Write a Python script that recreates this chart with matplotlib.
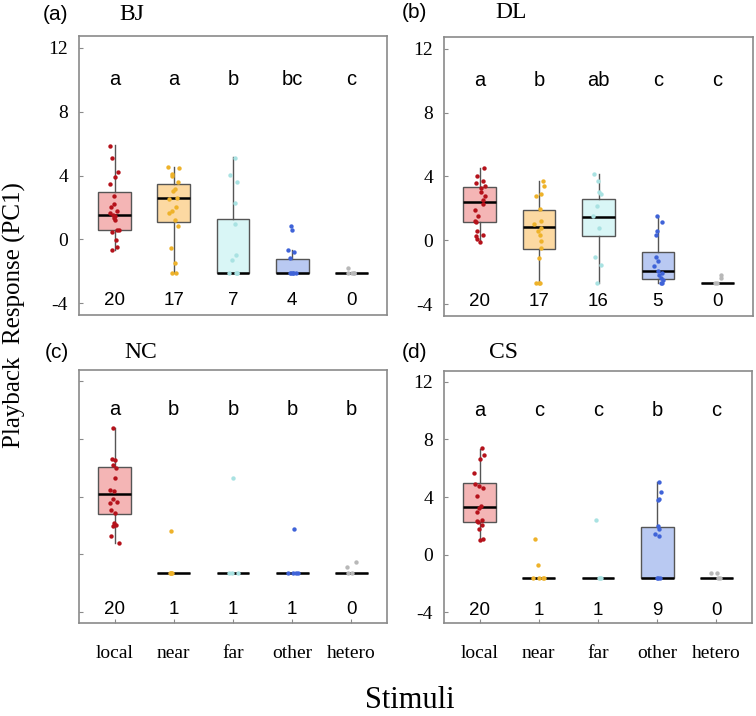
import numpy as np
import matplotlib
matplotlib.use("Agg")
import matplotlib.pyplot as plt

# categorias do eixo x
stimuli = ["local", "near", "far", "other", "hetero"]

# cores: preenchimento das caixas e pontos
box_cols = ["#f4b5b5", "#fcd9a2", "#d9f6f6", "#b9c9f2", "#d6d6d6"]
pt_cols = ["#b5121b", "#eeb22a", "#a9e2e2", "#3f63d8", "#b8b8b8"]

# ---- (a) BJ
bj_q1 = [0.58, 1.10, -2.10, -2.10, -2.10]
bj_med = [1.52, 2.56, -2.10, -2.10, -2.10]
bj_q3 = [2.95, 3.46, 1.25, -1.22, -2.10]
bj_lo = [-0.68, -2.14, -2.10, -2.10, -2.10]
bj_hi = [5.90, 4.55, 5.14, -0.68, -2.10]
bj_pts = [
    [5.87, 5.12, 4.24, 3.88, 3.44, 2.73, 2.21, 2.04, 1.79, 1.62, 1.50, 1.46,
     1.31, 1.21, 0.60, 0.58, 0.47, -0.05, -0.51, -0.68],
    [4.55, 4.45, 4.10, 4.00, 3.60, 3.13, 3.05, 2.56, 2.50, 2.04, 1.80, 1.62,
     1.20, 0.83, -0.57, -1.50, -2.10, -2.14],
    [5.07, 4.03, 3.60, 2.30, 0.95, -1.00, -1.30, -2.10, -2.10, -2.10, -2.10],
    [0.85, 0.58, -0.68, -0.78, -1.20, -2.10, -2.10, -2.10, -2.10, -2.10],
    [-1.83, -2.10, -2.10, -2.10, -2.10],
]
bj_letters = ["a", "a", "b", "bc", "c"]
bj_n = [20, 17, 7, 4, 0]

# ---- (b) DL
dl_q1 = [1.14, -0.54, 0.26, -2.42, -2.68]
dl_med = [2.40, 0.83, 1.45, -1.94, -2.68]
dl_q3 = [3.34, 1.90, 2.61, -0.73, -2.68]
dl_lo = [-0.10, -2.68, -2.68, -2.68, -2.68]
dl_hi = [4.56, 3.72, 4.18, 1.50, -2.68]
dl_pts = [
    [4.56, 4.03, 3.72, 3.60, 3.40, 3.30, 3.00, 2.78, 2.50, 2.25, 1.87, 1.50,
     1.20, 1.15, 0.57, 0.36, 0.25, 0.10, -0.10],
    [3.72, 3.40, 2.92, 2.80, 1.94, 1.20, 1.00, 0.78, 0.60, 0.36, -0.05, -0.47,
     -1.10, -2.68, -2.68, -2.68],
    [4.14, 3.72, 3.05, 2.88, 2.15, 1.50, 0.78, -1.06, -1.52, -2.68],
    [1.50, 1.16, 0.57, 0.36, -1.06, -1.30, -1.60, -1.94, -2.05, -2.15, -2.36,
     -2.50, -2.68, -2.68],
    [-2.20, -2.36, -2.68, -2.68],
]
dl_letters = ["a", "b", "ab", "c", "c"]
dl_n = [20, 17, 16, 5, 0]

# ---- (c) NC
nc_q1 = [2.76, -1.26, -1.26, -1.26, -1.26]
nc_med = [4.16, -1.26, -1.26, -1.26, -1.26]
nc_q3 = [6.04, -1.26, -1.26, -1.26, -1.26]
nc_lo = [0.76, -1.26, -1.26, -1.26, -1.26]
nc_hi = [8.74, -1.26, -1.26, -1.26, -1.26]
nc_pts = [
    [8.74, 6.61, 6.54, 6.15, 6.00, 5.28, 4.48, 4.40, 3.86, 3.63, 3.55, 3.10,
     2.87, 2.20, 2.02, 1.95, 1.27, 0.76],
    [1.61, -1.26, -1.26, -1.26, -1.26],
    [5.28, -1.26, -1.26, -1.26],
    [1.75, -1.26, -1.26, -1.26, -1.26],
    [-0.50, -0.89, -1.26, -1.26],
]
nc_letters = ["a", "b", "b", "b", "b"]
nc_n = [20, 1, 1, 1, 0]

# ---- (d) CS
cs_q1 = [2.26, -1.62, -1.62, -1.62, -1.62]
cs_med = [3.30, -1.62, -1.62, -1.62, -1.62]
cs_q3 = [4.97, -1.62, -1.62, 1.91, -1.62]
cs_lo = [1.03, -1.62, -1.62, -1.62, -1.62]
cs_hi = [7.36, -1.62, -1.62, 5.04, -1.62]
cs_pts = [
    [7.43, 6.90, 6.66, 5.69, 4.88, 4.74, 4.64, 4.09, 3.37, 3.25, 2.95, 2.42,
     2.32, 2.26, 2.07, 1.79, 1.10, 1.03],
    [1.10, -0.71, -1.62, -1.62, -1.62, -1.62],
    [2.42, -1.62, -1.62, -1.62],
    [5.04, 4.34, 3.88, 3.76, 2.02, 1.79, 1.44, 1.26, -1.62, -1.62, -1.62],
    [-1.30, -1.30, -1.62, -1.62],
]
cs_letters = ["a", "c", "c", "b", "c"]
cs_n = [20, 1, 1, 9, 0]

W, H = 756, 716
fig = plt.figure(figsize=(W / 100, H / 100), dpi=100)

serif = "Liberation Serif"
sans = "Liberation Sans"
spine_col = "#8a8a8a"
rng = np.random.default_rng(3)


def px_axes(l, t, r, b):
    """Cria eixos a partir de coordenadas em pixels"""
    return fig.add_axes([l / W, 1 - b / H, (r - l) / W, (b - t) / H])


def painel(ax, q1, med, q3, lo, hi, pts, letters, ns, ylabels=True, xlabels=False):
    pos = np.arange(1, len(stimuli) + 1)
    stats = []
    for i in range(len(stimuli)):
        stats.append(dict(q1=q1[i], med=med[i], q3=q3[i], whislo=lo[i],
                          whishi=hi[i], fliers=[]))
    bp = ax.bxp(stats, positions=pos, widths=0.55, patch_artist=True,
                showcaps=False, showfliers=False,
                boxprops=dict(edgecolor="#555555", linewidth=1.0),
                whiskerprops=dict(color="#555555", linewidth=1.0),
                medianprops=dict(color="black", linewidth=1.8))
    for patch, c in zip(bp["boxes"], box_cols):
        patch.set_facecolor(c)
    for i, vals in enumerate(pts):
        xs = pos[i] + rng.uniform(-0.09, 0.09, len(vals))
        ax.scatter(xs, vals, s=10, color=pt_cols[i], zorder=5, linewidths=0)
    for i in range(len(stimuli)):
        ax.text(pos[i], 10.0, letters[i], ha="center", va="center",
                fontsize=14.5, family=sans)
        ax.text(pos[i], -3.85, str(ns[i]), ha="center", va="center",
                fontsize=13.5, family=sans)
    ax.set_xlim(0.4, 5.6)
    ax.set_ylim(-4.75, 12.75)
    ax.set_yticks([-4, 0, 4, 8, 12])
    if ylabels:
        ax.set_yticklabels(["-4", "0", "4", "8", "12"], family=serif, fontsize=14)
    else:
        ax.set_yticklabels([])
    if xlabels:
        ax.set_xticks(pos)
        ax.set_xticklabels(stimuli, family=serif, fontsize=14)
    else:
        ax.set_xticks([])
    ax.tick_params(direction="in", length=3, color=spine_col, pad=8)
    ax.tick_params(axis="x", pad=16)
    for s in ax.spines.values():
        s.set_color(spine_col)
        s.set_linewidth(1.2)


ax_a = px_axes(79, 36, 387, 315)
painel(ax_a, bj_q1, bj_med, bj_q3, bj_lo, bj_hi, bj_pts, bj_letters, bj_n)
ax_b = px_axes(444, 37, 753, 316)
painel(ax_b, dl_q1, dl_med, dl_q3, dl_lo, dl_hi, dl_pts, dl_letters, dl_n)
ax_c = px_axes(79, 370, 387, 623)
painel(ax_c, nc_q1, nc_med, nc_q3, nc_lo, nc_hi, nc_pts, nc_letters, nc_n,
       ylabels=False, xlabels=True)
ax_d = px_axes(444, 371, 752, 623)
painel(ax_d, cs_q1, cs_med, cs_q3, cs_lo, cs_hi, cs_pts, cs_letters, cs_n,
       xlabels=True)

# titulos dos paineis
titulos = [("(a)", "BJ", 56, 132, 15), ("(b)", "DL", 414, 511, 13),
           ("(c)", "NC", 57, 141, 353), ("(d)", "CS", 414, 504, 353)]
for tag, nome, xt, xn, yy in titulos:
    fig.text(xt / W, 1 - yy / H, tag, ha="center", va="center",
             fontsize=15, family=sans)
    fig.text(xn / W, 1 - yy / H, nome, ha="center", va="center",
             fontsize=17, family=serif)

fig.text(14 / W, 1 - 315 / H, "Playback  Response (PC1)", rotation=90,
         ha="center", va="center", fontsize=18, family=serif)
fig.text(410 / W, 1 - 700 / H, "Stimuli", ha="center", va="center",
         fontsize=22, family=serif)

fig.savefig("out.png", dpi=100)
